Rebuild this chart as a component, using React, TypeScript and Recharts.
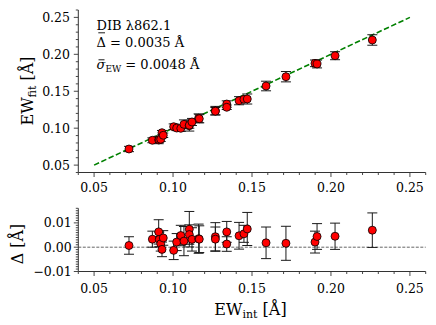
import React from 'react';
import { ScatterChart, Scatter, XAxis, YAxis, ErrorBar, ReferenceLine } from 'recharts';

// ---- data ----
const ewInt = [0.0721, 0.0869, 0.0909, 0.0913, 0.0922, 0.0930, 0.0938, 0.1004, 0.1023, 0.1049,
  0.1069, 0.1103, 0.1103, 0.1120, 0.1162, 0.1166, 0.1268, 0.1268, 0.1340, 0.1340,
  0.1418, 0.1449, 0.1470, 0.1589, 0.1715, 0.1899, 0.1912, 0.2026, 0.2262];
const ewFit = [0.0718, 0.0836, 0.0840, 0.0845, 0.0850, 0.0939, 0.0904, 0.1020, 0.1002, 0.0998,
  0.1052, 0.1034, 0.1040, 0.1084, 0.1134, 0.1128, 0.1237, 0.1230, 0.1327, 0.1283,
  0.1372, 0.1391, 0.1395, 0.1571, 0.1697, 0.1878, 0.1869, 0.1981, 0.2194];
const fitErr = [0.0036, 0.0033, 0.0050, 0.0030, 0.0030, 0.0030, 0.0030, 0.0038, 0.0035, 0.0042,
  0.0060, 0.0073, 0.0040, 0.0048, 0.0060, 0.0055, 0.0058, 0.0050, 0.0043, 0.0030,
  0.0055, 0.0035, 0.0068, 0.0065, 0.0070, 0.0045, 0.0053, 0.0054, 0.0071];
const delta = [0.0007, 0.0033, 0.0063, 0.0032, 0.0014, -0.0009, 0.0038, -0.0013, 0.0021, 0.0048,
  0.0025, 0.0074, 0.0052, 0.0032, 0.0035, 0.0033, 0.0043, 0.0033, 0.0063, 0.0013,
  0.0047, 0.0055, 0.0075, 0.0018, 0.0016, 0.0021, 0.0044, 0.0045, 0.0070];
const deltaErr = [0.0036, 0.0033, 0.0050, 0.0030, 0.0030, 0.0030, 0.0030, 0.0038, 0.0035, 0.0042,
  0.0060, 0.0073, 0.0040, 0.0048, 0.0060, 0.0055, 0.0058, 0.0050, 0.0043, 0.0030,
  0.0055, 0.0035, 0.0068, 0.0065, 0.0070, 0.0045, 0.0053, 0.0054, 0.0071];

const oneToOne = [0.05, 0.25];
const xDomain = [0.04, 0.26];
const yTopDomain = [0.04, 0.26];
const yBotDomain = [-0.01, 0.016];
const xMajor = [0.05, 0.10, 0.15, 0.20, 0.25];
const yTopMajor = [0.05, 0.10, 0.15, 0.20, 0.25];
const yBotMajor = [-0.01, 0.00, 0.01];

const r3 = (v: number) => Math.round(v * 10000) / 10000;
const range = (a: number, b: number, s: number) => {
  const out: number[] = [];
  for (let i = 0; a + i * s <= b + 1e-9; i++) out.push(r3(a + i * s));
  return out;
};
const xTicksAll = range(0.04, 0.26, 0.01);
const yTopTicksAll = range(0.04, 0.26, 0.01);
const yBotTicksAll = range(-0.01, 0.016, 0.001);

const topData = ewInt.map((x, i) => ({ x, y: ewFit[i], err: fitErr[i] }));
const botData = ewInt.map((x, i) => ({ x, y: delta[i], err: deltaErr[i] }));

const FONT = 'DejaVu Serif';
const AX = '#333';

const isMajor = (majors: number[]) => (v: number) => majors.some((m) => Math.abs(m - v) < 1e-6);
const fmt = (v: number) => (v < 0 ? '\u2212' + Math.abs(v).toFixed(2) : v.toFixed(2));

function makeTick(side: string, majors: number[], labels: boolean, labelOff: number) {
  const maj = isMajor(majors);
  return (props: any) => {
    const { x, y, payload } = props;
    const v = payload.value;
    const big = maj(v);
    const len = big ? 4.5 : 2.5;
    let line;
    let text = null;
    if (side === 'bottom') {
      line = <line x1={x} y1={y} x2={x} y2={y + len} stroke={AX} strokeWidth={0.9} />;
      if (labels && big)
        text = (
          <text x={x} y={y + labelOff} textAnchor="middle" fontFamily={FONT} fontSize={12.5} fill="#000">
            {fmt(v)}
          </text>
        );
    } else if (side === 'top') {
      line = <line x1={x} y1={y} x2={x} y2={y - len} stroke={AX} strokeWidth={0.9} />;
    } else if (side === 'left') {
      line = <line x1={x} y1={y} x2={x - len} y2={y} stroke={AX} strokeWidth={0.9} />;
      if (labels && big)
        text = (
          <text x={x - labelOff} y={y} dy="0.36em" textAnchor="end" fontFamily={FONT} fontSize={12.5} fill="#000">
            {fmt(v)}
          </text>
        );
    } else {
      line = <line x1={x} y1={y} x2={x + len} y2={y} stroke={AX} strokeWidth={0.9} />;
    }
    return (
      <g>
        {line}
        {text}
      </g>
    );
  };
}

const RedDot = (props: any) => {
  const { cx, cy } = props;
  if (cx == null || cy == null) return <g />;
  return <circle cx={cx} cy={cy} r={4} fill="#ff0000" stroke="#000" strokeWidth={0.8} />;
};

const axisLine = { stroke: AX, strokeWidth: 1 };

export default function App() {
  return (
    <div style={{ position: 'absolute', left: 0, top: 0, width: 436, height: 325, background: '#fff' }}>
      <div style={{ position: 'absolute', left: 0, top: 0 }}>
        <ScatterChart width={436} height={200} margin={{ top: 10, right: 10.3, left: 0, bottom: 0 }}>
          <XAxis xAxisId="b" type="number" dataKey="x" domain={xDomain} allowDataOverflow ticks={xTicksAll}
            interval={0} tickSize={0} tickMargin={0} tickLine={false} height={27.5} axisLine={axisLine}
            tick={makeTick('bottom', xMajor, true, 19.3)} />
          <XAxis xAxisId="t" orientation="top" type="number" domain={xDomain} allowDataOverflow ticks={xTicksAll}
            interval={0} tickSize={0} tickMargin={0} tickLine={false} height={0} axisLine={axisLine}
            tick={makeTick('top', xMajor, false, 0)} />
          <YAxis yAxisId="l" type="number" dataKey="y" domain={yTopDomain} allowDataOverflow ticks={yTopTicksAll}
            interval={0} tickSize={0} tickMargin={0} tickLine={false} width={78.3} axisLine={axisLine}
            tick={makeTick('left', yTopMajor, true, 8.3)} />
          <YAxis yAxisId="r" orientation="right" type="number" domain={yTopDomain} allowDataOverflow ticks={yTopTicksAll}
            interval={0} tickSize={0} tickMargin={0} tickLine={false} width={0} axisLine={axisLine}
            tick={makeTick('right', yTopMajor, false, 0)} />
          <ReferenceLine xAxisId="b" yAxisId="l"
            segment={[{ x: oneToOne[0], y: oneToOne[0] }, { x: oneToOne[1], y: oneToOne[1] }]}
            stroke="#008000" strokeWidth={1.6} strokeDasharray="5.5 2.5" />
          <Scatter xAxisId="b" yAxisId="l" data={topData} shape={RedDot} isAnimationActive={false}>
            <ErrorBar dataKey="err" direction="y" width={5} stroke="#1a1a1a" strokeWidth={1} />
          </Scatter>
        </ScatterChart>
      </div>
      <div style={{ position: 'absolute', left: 0, top: 190 }}>
        <ScatterChart width={436} height={135} margin={{ top: 18.3, right: 10.3, left: 0, bottom: 0 }}>
          <XAxis xAxisId="b" type="number" dataKey="x" domain={xDomain} allowDataOverflow ticks={xTicksAll}
            interval={0} tickSize={0} tickMargin={0} tickLine={false} height={53.5} axisLine={axisLine}
            tick={makeTick('bottom', xMajor, true, 21.8)} />
          <XAxis xAxisId="t" orientation="top" type="number" domain={xDomain} allowDataOverflow ticks={xTicksAll}
            interval={0} tickSize={0} tickMargin={0} tickLine={false} height={0} axisLine={axisLine}
            tick={makeTick('top', xMajor, false, 0)} />
          <YAxis yAxisId="l" type="number" dataKey="y" domain={yBotDomain} allowDataOverflow ticks={yBotTicksAll}
            interval={0} tickSize={0} tickMargin={0} tickLine={false} width={78.3} axisLine={axisLine}
            tick={makeTick('left', yBotMajor, true, 6.6)} />
          <YAxis yAxisId="r" orientation="right" type="number" domain={yBotDomain} allowDataOverflow ticks={yBotTicksAll}
            interval={0} tickSize={0} tickMargin={0} tickLine={false} width={0} axisLine={axisLine}
            tick={makeTick('right', yBotMajor, false, 0)} />
          <ReferenceLine xAxisId="b" yAxisId="l" y={0} stroke="#666" strokeWidth={1} strokeDasharray="3 1.5" />
          <Scatter xAxisId="b" yAxisId="l" data={botData} shape={RedDot} isAnimationActive={false}>
            <ErrorBar dataKey="err" direction="y" width={5} stroke="#1a1a1a" strokeWidth={1} />
          </Scatter>
        </ScatterChart>
      </div>
      <svg width={436} height={325} style={{ position: 'absolute', left: 0, top: 0, pointerEvents: 'none' }}>
        <g fontFamily={FONT} fill="#000">
          <text x={96.5} y={30} fontSize={13}>DIB λ862.1</text>
          <text x={96.5} y={46.7} fontSize={13}>Δ = 0.0035 Å</text>
          <line x1={98.3} x2={105} y1={32.8} y2={32.8} stroke="#000" strokeWidth={0.9} />
          <text x={96.5} y={69} fontSize={13}>
            <tspan fontStyle="italic">σ</tspan>
            <tspan fontSize={9} dy={3}>EW</tspan>
            <tspan dy={-3}> = 0.0048 Å</tspan>
          </text>
          <line x1={98.5} x2={104.5} y1={59.8} y2={59.8} stroke="#000" strokeWidth={0.9} />
          <text x={33.3} y={91} transform="rotate(-90 33.3 91)" textAnchor="middle" fontSize={16}>
            EW<tspan fontSize={11} dy={3}>fit</tspan>
            <tspan dy={-3}> [Å]</tspan>
          </text>
          <text x={23.3} y={244} transform="rotate(-90 23.3 244)" textAnchor="middle" fontSize={16}>
            Δ [Å]
          </text>
          <text x={250.5} y={315} textAnchor="middle" fontSize={16}>
            EW<tspan fontSize={11} dy={3}>int</tspan>
            <tspan dy={-3}> [Å]</tspan>
          </text>
        </g>
      </svg>
    </div>
  );
}
